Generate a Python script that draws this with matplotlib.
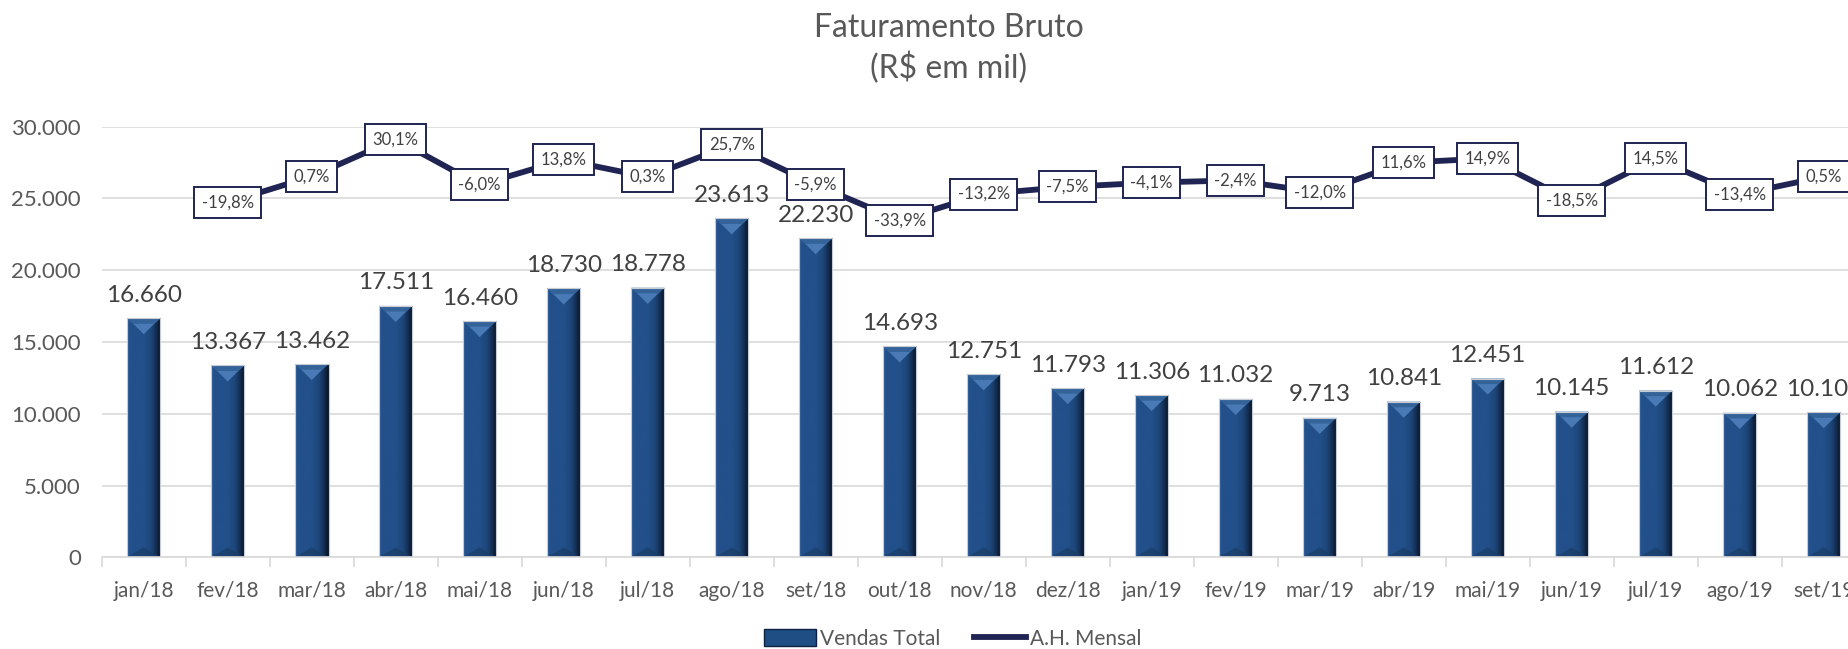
import matplotlib
matplotlib.use("Agg")
import matplotlib.pyplot as plt
import numpy as np
from matplotlib.colors import LinearSegmentedColormap
from matplotlib.patches import Polygon, Rectangle
from matplotlib.lines import Line2D

plt.rcParams['font.family'] = ['Lato', 'DejaVu Sans']

categories = ["jan/18", "fev/18", "mar/18", "abr/18", "mai/18", "jun/18", "jul/18",
              "ago/18", "set/18", "out/18", "nov/18", "dez/18", "jan/19", "fev/19",
              "mar/19", "abr/19", "mai/19", "jun/19", "jul/19", "ago/19", "set/19"]
vendas = [16660, 13367, 13462, 17511, 16460, 18730, 18778, 23613, 22230, 14693,
          12751, 11793, 11306, 11032, 9713, 10841, 12451, 10145, 11612, 10062, 10107]
ah_mensal = [np.nan, -19.8, 0.7, 30.1, -6.0, 13.8, 0.3, 25.7, -5.9, -33.9,
             -13.2, -7.5, -4.1, -2.4, -12.0, 11.6, 14.9, -18.5, 14.5, -13.4, 0.5]
yticks = [0, 5000, 10000, 15000, 20000, 25000, 30000]

def br_int(v):
    return f"{v:,.0f}".replace(",", ".")

def br_pct(v):
    return f"{v:.1f}%".replace(".", ",")

W, H = 1849, 649
fig = plt.figure(figsize=(W / 100, H / 100), dpi=100)
left = 101.7 / W
bottom = (H - 557.3) / H
width = 1764 / W
height = 430.6 / H
ax = fig.add_axes([left, bottom, width, height])

x = np.arange(len(categories))
bw = 0.40
ax.set_xlim(-0.5, len(categories) - 0.5)
ax.set_ylim(0, 30000)

# grid
ax.set_yticks(yticks)
ax.set_yticklabels([br_int(v) for v in yticks])
ax.yaxis.grid(True, color='#d9d9d9', linewidth=1.2)
ax.set_axisbelow(True)
for s in ['top', 'right', 'left']:
    ax.spines[s].set_visible(False)
ax.spines['bottom'].set_color('#d9d9d9')
ax.spines['bottom'].set_linewidth(1.2)
ax.set_xticks(np.arange(-0.5, len(categories), 1.0), minor=False)
ax.set_xticklabels([])
ax.set_xticks(x, minor=True)
ax.set_xticklabels(categories, minor=True)
ax.tick_params(axis='x', which='major', length=7, width=1.2, color='#d9d9d9', direction='out')
ax.tick_params(axis='x', which='minor', length=0, pad=17, labelsize=15, labelcolor='#595959')
ax.tick_params(axis='y', length=0, pad=15, labelsize=16, labelcolor='#595959')

# bars
bars = ax.bar(x, vendas, width=bw, color='#1f4e85', edgecolor='#c8ccd4', linewidth=0.8, zorder=2)
cmap = LinearSegmentedColormap.from_list('bevel', [
    (0.0, '#2f5f9c'), (0.08, '#23508a'), (0.5, '#22508a'), (0.72, '#1d4578'),
    (0.88, '#12294a'), (1.0, '#07111f')])
grad = np.linspace(0, 1, 256).reshape(1, -1)
fig.canvas.draw()
p0 = ax.transData.transform((0, 0))
p1 = ax.transData.transform((1, 1000))
px_per_y = (p1[1] - p0[1]) / 1000.0
for b in bars:
    x0 = b.get_x(); w = b.get_width(); h = b.get_height()
    im = ax.imshow(grad, cmap=cmap, aspect='auto', extent=(x0, x0 + w, 0, h),
                   zorder=2.1, interpolation='bicubic')
    im.set_clip_path(b)
    d = 16 / px_per_y
    xc = x0 + w / 2
    tri = Polygon([(x0, h), (x0 + w, h), (xc, h - d)], closed=True,
                  facecolor='#346399', edgecolor='none', zorder=2.2)
    ax.add_patch(tri)
    tri2 = Polygon([(x0 + w * 0.2, h - d * 0.35), (x0 + w * 0.8, h - d * 0.35), (xc, h - d)],
                   closed=True, facecolor='#5080bd', edgecolor='none', zorder=2.3, alpha=0.8)
    ax.add_patch(tri2)
    db = 10 / px_per_y
    tri3 = Polygon([(x0, 0), (x0 + w, 0), (xc, db)], closed=True,
                   facecolor='#1a3d68', edgecolor='none', zorder=2.2, alpha=0.7)
    ax.add_patch(tri3)
    ax.add_patch(Rectangle((x0, 0), w, h, fill=False, edgecolor='#c8ccd4', linewidth=0.8, zorder=2.4))
    ax.annotate(br_int(h), (xc, h), xytext=(0, 9), textcoords='offset points',
                ha='center', va='bottom', fontsize=17.5, color='#404040', zorder=3)

# line on secondary axis
ax2 = ax.twinx()
ax2.set_ylim(-300, 40)
ax2.set_axis_off()
ax2.plot(x, ah_mensal, color='#1f2452', linewidth=4.2, solid_joinstyle='miter', zorder=4)
for xi, v in zip(x, ah_mensal):
    if np.isnan(v):
        continue
    ax2.annotate(br_pct(v), (xi, v), ha='center', va='center', fontsize=12, color='#404040',
                 zorder=5,
                 bbox=dict(boxstyle='square,pad=0.45', facecolor='white', edgecolor='#1f2452',
                           linewidth=1.4))

# title
fig.text(949 / W, 1 - 28 / H, "Faturamento Bruto", ha='center', va='center', fontsize=23, color='#595959')
fig.text(949 / W, 1 - 68 / H, "(R$ em mil)", ha='center', va='center', fontsize=23, color='#595959')

# legend
handles = [Rectangle((0, 0), 1, 1, facecolor='#1f4e85', edgecolor='#0d2140', linewidth=1),
           Line2D([0], [0], color='#1f2452', linewidth=4.2)]
fig.legend(handles, ["Vendas Total", "A.H. Mensal"], loc='center', ncol=2,
           bbox_to_anchor=(953 / W, 1 - 639 / H), frameon=False, fontsize=15,
           labelcolor='#595959', handlelength=2.5, handletextpad=0.2, columnspacing=1.6,
           handleheight=0.9)

fig.savefig("out.png", dpi=100)
